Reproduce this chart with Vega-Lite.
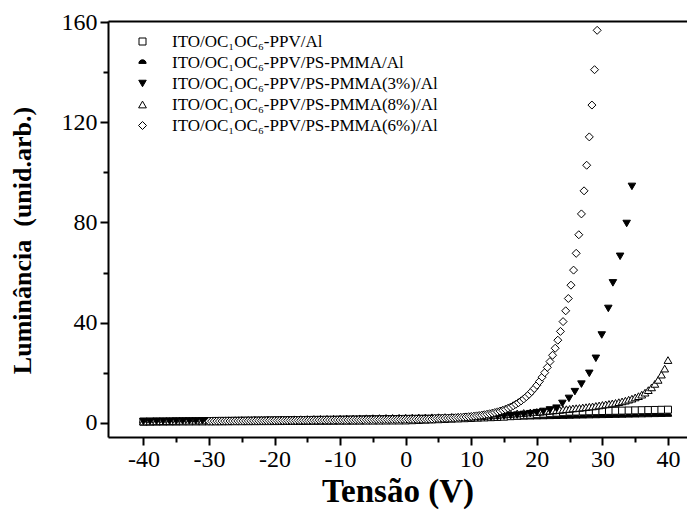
{
"$schema": "https://vega.github.io/schema/vega-lite/v6.json",
"width": 579, "height": 416,
"autosize": {"type": "none"},
"padding": {"left": 108, "top": 21, "right": 0, "bottom": 74},
"background": "white",
"config": {"font": "Liberation Serif", "view": {"stroke": null}},
"data": {"values": [
{"s":"b","x":-40,"y":0.4},{"s":"b","x":-39,"y":0.42},{"s":"b","x":-38,"y":0.43},{"s":"b","x":-37,"y":0.45},{"s":"b","x":-36,"y":0.46},{"s":"b","x":-35,"y":0.48},{"s":"b","x":-34,"y":0.49},{"s":"b","x":-33,"y":0.51},{"s":"b","x":-32,"y":0.52},{"s":"b","x":-31,"y":0.54},{"s":"b","x":-30,"y":0.55},{"s":"b","x":-29,"y":0.57},{"s":"b","x":-28,"y":0.58},{"s":"b","x":-27,"y":0.6},{"s":"b","x":-26,"y":0.61},{"s":"b","x":-25,"y":0.63},{"s":"b","x":-24,"y":0.64},{"s":"b","x":-23,"y":0.66},{"s":"b","x":-22,"y":0.67},{"s":"b","x":-21,"y":0.69},{"s":"b","x":-20,"y":0.7},{"s":"b","x":-19,"y":0.72},{"s":"b","x":-18,"y":0.73},{"s":"b","x":-17,"y":0.75},{"s":"b","x":-16,"y":0.76},{"s":"b","x":-15,"y":0.78},{"s":"b","x":-14,"y":0.79},{"s":"b","x":-13,"y":0.81},{"s":"b","x":-12,"y":0.82},{"s":"b","x":-11,"y":0.84},{"s":"b","x":-10,"y":0.85},{"s":"b","x":-9,"y":0.87},{"s":"b","x":-8,"y":0.88},{"s":"b","x":-7,"y":0.9},{"s":"b","x":-6,"y":0.91},{"s":"b","x":-5,"y":0.93},{"s":"b","x":-4,"y":0.94},{"s":"b","x":-3,"y":0.96},{"s":"b","x":-2,"y":0.97},{"s":"b","x":-1,"y":0.99},{"s":"b","x":0,"y":1.0},{"s":"b","x":1,"y":1.05},{"s":"b","x":2,"y":1.1},{"s":"b","x":3,"y":1.15},{"s":"b","x":4,"y":1.2},{"s":"b","x":5,"y":1.25},{"s":"b","x":6,"y":1.3},{"s":"b","x":7,"y":1.35},{"s":"b","x":8,"y":1.4},{"s":"b","x":9,"y":1.45},{"s":"b","x":10,"y":1.5},{"s":"b","x":11,"y":1.55},{"s":"b","x":12,"y":1.6},{"s":"b","x":13,"y":1.65},{"s":"b","x":14,"y":1.7},{"s":"b","x":15,"y":1.75},{"s":"b","x":16,"y":1.8},{"s":"b","x":17,"y":1.85},{"s":"b","x":18,"y":1.9},{"s":"b","x":19,"y":1.95},{"s":"b","x":20,"y":2.0},{"s":"b","x":21,"y":2.05},{"s":"b","x":22,"y":2.1},{"s":"b","x":23,"y":2.15},{"s":"b","x":24,"y":2.2},{"s":"b","x":25,"y":2.25},{"s":"b","x":26,"y":2.3},{"s":"b","x":27,"y":2.35},{"s":"b","x":28,"y":2.4},{"s":"b","x":29,"y":2.45},{"s":"b","x":30,"y":2.5},{"s":"b","x":31,"y":2.55},{"s":"b","x":32,"y":2.6},{"s":"b","x":33,"y":2.65},{"s":"b","x":34,"y":2.7},{"s":"b","x":35,"y":2.75},{"s":"b","x":36,"y":2.8},{"s":"b","x":37,"y":2.85},{"s":"b","x":38,"y":2.9},{"s":"b","x":39,"y":2.95},{"s":"b","x":40,"y":3.0},
{"s":"a","x":-40,"y":0.5},{"s":"a","x":-39,"y":0.51},{"s":"a","x":-38,"y":0.53},{"s":"a","x":-37,"y":0.54},{"s":"a","x":-36,"y":0.55},{"s":"a","x":-35,"y":0.56},{"s":"a","x":-34,"y":0.58},{"s":"a","x":-33,"y":0.59},{"s":"a","x":-32,"y":0.6},{"s":"a","x":-31,"y":0.61},{"s":"a","x":-30,"y":0.63},{"s":"a","x":-29,"y":0.64},{"s":"a","x":-28,"y":0.65},{"s":"a","x":-27,"y":0.66},{"s":"a","x":-26,"y":0.68},{"s":"a","x":-25,"y":0.69},{"s":"a","x":-24,"y":0.7},{"s":"a","x":-23,"y":0.71},{"s":"a","x":-22,"y":0.73},{"s":"a","x":-21,"y":0.74},{"s":"a","x":-20,"y":0.75},{"s":"a","x":-19,"y":0.76},{"s":"a","x":-18,"y":0.78},{"s":"a","x":-17,"y":0.79},{"s":"a","x":-16,"y":0.8},{"s":"a","x":-15,"y":0.81},{"s":"a","x":-14,"y":0.83},{"s":"a","x":-13,"y":0.84},{"s":"a","x":-12,"y":0.85},{"s":"a","x":-11,"y":0.86},{"s":"a","x":-10,"y":0.88},{"s":"a","x":-9,"y":0.89},{"s":"a","x":-8,"y":0.9},{"s":"a","x":-7,"y":0.91},{"s":"a","x":-6,"y":0.93},{"s":"a","x":-5,"y":0.94},{"s":"a","x":-4,"y":0.95},{"s":"a","x":-3,"y":0.96},{"s":"a","x":-2,"y":0.98},{"s":"a","x":-1,"y":0.99},{"s":"a","x":0,"y":1.0},{"s":"a","x":1,"y":1.1},{"s":"a","x":2,"y":1.2},{"s":"a","x":3,"y":1.3},{"s":"a","x":4,"y":1.4},{"s":"a","x":5,"y":1.5},{"s":"a","x":6,"y":1.6},{"s":"a","x":7,"y":1.7},{"s":"a","x":8,"y":1.8},{"s":"a","x":9,"y":1.9},{"s":"a","x":10,"y":2.0},{"s":"a","x":11,"y":2.1},{"s":"a","x":12,"y":2.2},{"s":"a","x":13,"y":2.3},{"s":"a","x":14,"y":2.4},{"s":"a","x":15,"y":2.5},{"s":"a","x":16,"y":2.7},{"s":"a","x":17,"y":2.9},{"s":"a","x":18,"y":3.1},{"s":"a","x":19,"y":3.3},{"s":"a","x":20,"y":3.5},{"s":"a","x":21,"y":3.7},{"s":"a","x":22,"y":3.9},{"s":"a","x":23,"y":4.1},{"s":"a","x":24,"y":4.3},{"s":"a","x":25,"y":4.5},{"s":"a","x":26,"y":4.55},{"s":"a","x":27,"y":4.61},{"s":"a","x":28,"y":4.66},{"s":"a","x":29,"y":4.71},{"s":"a","x":30,"y":4.77},{"s":"a","x":31,"y":4.82},{"s":"a","x":32,"y":4.87},{"s":"a","x":33,"y":4.93},{"s":"a","x":34,"y":4.98},{"s":"a","x":35,"y":5.03},{"s":"a","x":36,"y":5.09},{"s":"a","x":37,"y":5.14},{"s":"a","x":38,"y":5.19},{"s":"a","x":39,"y":5.25},{"s":"a","x":40,"y":5.3},
{"s":"d","x":-40,"y":0.6},{"s":"d","x":-39,"y":0.64},{"s":"d","x":-38,"y":0.68},{"s":"d","x":-37,"y":0.71},{"s":"d","x":-36,"y":0.75},{"s":"d","x":-35,"y":0.79},{"s":"d","x":-34,"y":0.83},{"s":"d","x":-33,"y":0.87},{"s":"d","x":-32,"y":0.9},{"s":"d","x":-31,"y":0.94},{"s":"d","x":-30,"y":0.98},{"s":"d","x":-29,"y":1.02},{"s":"d","x":-28,"y":1.06},{"s":"d","x":-27,"y":1.09},{"s":"d","x":-26,"y":1.13},{"s":"d","x":-25,"y":1.17},{"s":"d","x":-24,"y":1.21},{"s":"d","x":-23,"y":1.25},{"s":"d","x":-22,"y":1.28},{"s":"d","x":-21,"y":1.32},{"s":"d","x":-20,"y":1.36},{"s":"d","x":-19,"y":1.4},{"s":"d","x":-18,"y":1.44},{"s":"d","x":-17,"y":1.47},{"s":"d","x":-16,"y":1.51},{"s":"d","x":-15,"y":1.55},{"s":"d","x":-14,"y":1.59},{"s":"d","x":-13,"y":1.63},{"s":"d","x":-12,"y":1.66},{"s":"d","x":-11,"y":1.7},{"s":"d","x":-10,"y":1.74},{"s":"d","x":-9,"y":1.78},{"s":"d","x":-8,"y":1.82},{"s":"d","x":-7,"y":1.85},{"s":"d","x":-6,"y":1.89},{"s":"d","x":-5,"y":1.93},{"s":"d","x":-4,"y":1.97},{"s":"d","x":-3,"y":2.01},{"s":"d","x":-2,"y":2.04},{"s":"d","x":-1,"y":2.08},{"s":"d","x":0,"y":2.12},{"s":"d","x":1,"y":2.16},{"s":"d","x":2,"y":2.2},{"s":"d","x":3,"y":2.23},{"s":"d","x":4,"y":2.27},{"s":"d","x":5,"y":2.31},{"s":"d","x":6,"y":2.35},{"s":"d","x":7,"y":2.39},{"s":"d","x":8,"y":2.42},{"s":"d","x":9,"y":2.46},{"s":"d","x":10,"y":2.5},{"s":"d","x":11,"y":2.6},{"s":"d","x":12,"y":2.8},{"s":"d","x":13,"y":3.0},{"s":"d","x":14,"y":3.2},{"s":"d","x":15,"y":3.4},{"s":"d","x":16,"y":3.6},{"s":"d","x":17,"y":3.8},{"s":"d","x":18,"y":4.0},{"s":"d","x":19,"y":4.2},
{"s":"d","x":20,"y":4.4},{"s":"d","x":20.5,"y":4.5},{"s":"d","x":21,"y":4.6},{"s":"d","x":21.5,"y":4.8},{"s":"d","x":22,"y":4.9},{"s":"d","x":22.5,"y":5.0},{"s":"d","x":23,"y":5.1},{"s":"d","x":23.5,"y":5.2},{"s":"d","x":24,"y":5.4},{"s":"d","x":24.5,"y":5.5},{"s":"d","x":25,"y":5.6},{"s":"d","x":25.5,"y":5.8},{"s":"d","x":26,"y":5.9},{"s":"d","x":26.5,"y":6.0},{"s":"d","x":27,"y":6.2},{"s":"d","x":27.5,"y":6.3},{"s":"d","x":28,"y":6.5},{"s":"d","x":28.5,"y":6.6},{"s":"d","x":29,"y":6.8},{"s":"d","x":29.5,"y":7.0},{"s":"d","x":30,"y":7.2},{"s":"d","x":30.5,"y":7.4},{"s":"d","x":31,"y":7.6},{"s":"d","x":31.5,"y":7.8},{"s":"d","x":32,"y":8.0},{"s":"d","x":32.5,"y":8.3},{"s":"d","x":33,"y":8.6},{"s":"d","x":33.5,"y":8.9},{"s":"d","x":34,"y":9.3},{"s":"d","x":34.5,"y":9.7},{"s":"d","x":35,"y":10.2},{"s":"d","x":35.5,"y":10.7},{"s":"d","x":36,"y":11.3},{"s":"d","x":36.5,"y":12.1},{"s":"d","x":37,"y":13.1},{"s":"d","x":37.5,"y":14.2},{"s":"d","x":38,"y":15.6},{"s":"d","x":38.5,"y":17.2},{"s":"d","x":39,"y":19.3},{"s":"d","x":39.5,"y":21.7},{"s":"d","x":40,"y":25.1},
{"s":"c","x":-40,"y":0.6},{"s":"c","x":-39,"y":0.63},{"s":"c","x":-38,"y":0.66},{"s":"c","x":-37,"y":0.68},{"s":"c","x":-36,"y":0.71},{"s":"c","x":-35,"y":0.74},{"s":"c","x":-34,"y":0.77},{"s":"c","x":-33,"y":0.8},{"s":"c","x":-32,"y":0.82},{"s":"c","x":-31,"y":0.85},{"s":"c","x":-30,"y":0.88},{"s":"c","x":-29,"y":0.91},{"s":"c","x":-28,"y":0.94},{"s":"c","x":-27,"y":0.96},{"s":"c","x":-26,"y":0.99},{"s":"c","x":-25,"y":1.02},{"s":"c","x":-24,"y":1.05},{"s":"c","x":-23,"y":1.08},{"s":"c","x":-22,"y":1.1},{"s":"c","x":-21,"y":1.13},{"s":"c","x":-20,"y":1.16},{"s":"c","x":-19,"y":1.19},{"s":"c","x":-18,"y":1.22},{"s":"c","x":-17,"y":1.24},{"s":"c","x":-16,"y":1.27},{"s":"c","x":-15,"y":1.3},{"s":"c","x":-14,"y":1.33},{"s":"c","x":-13,"y":1.36},{"s":"c","x":-12,"y":1.38},{"s":"c","x":-11,"y":1.41},{"s":"c","x":-10,"y":1.44},{"s":"c","x":-9,"y":1.47},{"s":"c","x":-8,"y":1.5},{"s":"c","x":-7,"y":1.52},{"s":"c","x":-6,"y":1.55},{"s":"c","x":-5,"y":1.58},{"s":"c","x":-4,"y":1.61},{"s":"c","x":-3,"y":1.64},{"s":"c","x":-2,"y":1.66},{"s":"c","x":-1,"y":1.69},{"s":"c","x":0,"y":1.72},{"s":"c","x":1,"y":1.75},{"s":"c","x":2,"y":1.78},{"s":"c","x":3,"y":1.8},{"s":"c","x":4,"y":1.83},{"s":"c","x":5,"y":1.86},{"s":"c","x":6,"y":1.89},{"s":"c","x":7,"y":1.92},{"s":"c","x":8,"y":1.94},{"s":"c","x":9,"y":1.97},{"s":"c","x":10,"y":2.0},{"s":"c","x":11,"y":2.1},{"s":"c","x":12,"y":2.2},{"s":"c","x":13,"y":2.3},{"s":"c","x":14,"y":2.5},{"s":"c","x":15,"y":2.7},{"s":"c","x":16,"y":2.9},{"s":"c","x":17,"y":3.1},{"s":"c","x":18,"y":3.4},{"s":"c","x":19,"y":3.7},{"s":"c","x":20,"y":4.1},{"s":"c","x":21,"y":4.6},{"s":"c","x":22,"y":5.2},{"s":"c","x":23.0,"y":5.9},{"s":"c","x":23.9,"y":7.8},{"s":"c","x":24.9,"y":9.8},{"s":"c","x":25.8,"y":12.5},{"s":"c","x":26.8,"y":15.5},{"s":"c","x":28.0,"y":19.8},{"s":"c","x":29.0,"y":25.8},{"s":"c","x":29.9,"y":35.1},{"s":"c","x":30.9,"y":45.7},{"s":"c","x":31.6,"y":55.9},{"s":"c","x":32.7,"y":66.5},{"s":"c","x":33.7,"y":79.6},{"s":"c","x":34.5,"y":94.4},
{"s":"e","x":-30,"y":0.7},{"s":"e","x":-29.6,"y":0.71},{"s":"e","x":-29.2,"y":0.72},{"s":"e","x":-28.8,"y":0.73},{"s":"e","x":-28.4,"y":0.74},{"s":"e","x":-28,"y":0.75},{"s":"e","x":-27.6,"y":0.76},{"s":"e","x":-27.2,"y":0.77},{"s":"e","x":-26.8,"y":0.78},{"s":"e","x":-26.4,"y":0.79},{"s":"e","x":-26,"y":0.8},{"s":"e","x":-25.6,"y":0.81},{"s":"e","x":-25.2,"y":0.82},{"s":"e","x":-24.8,"y":0.83},{"s":"e","x":-24.4,"y":0.84},{"s":"e","x":-24,"y":0.85},{"s":"e","x":-23.6,"y":0.86},{"s":"e","x":-23.2,"y":0.87},{"s":"e","x":-22.8,"y":0.88},{"s":"e","x":-22.4,"y":0.89},{"s":"e","x":-22,"y":0.9},{"s":"e","x":-21.6,"y":0.91},{"s":"e","x":-21.2,"y":0.92},{"s":"e","x":-20.8,"y":0.93},{"s":"e","x":-20.4,"y":0.94},{"s":"e","x":-20,"y":0.95},{"s":"e","x":-19.6,"y":0.96},{"s":"e","x":-19.2,"y":0.97},{"s":"e","x":-18.8,"y":0.98},{"s":"e","x":-18.4,"y":0.99},{"s":"e","x":-18,"y":1.0},{"s":"e","x":-17.6,"y":1.01},{"s":"e","x":-17.2,"y":1.02},{"s":"e","x":-16.8,"y":1.03},{"s":"e","x":-16.4,"y":1.04},{"s":"e","x":-16,"y":1.05},{"s":"e","x":-15.6,"y":1.06},{"s":"e","x":-15.2,"y":1.07},{"s":"e","x":-14.8,"y":1.08},{"s":"e","x":-14.4,"y":1.09},{"s":"e","x":-14,"y":1.1},{"s":"e","x":-13.6,"y":1.11},{"s":"e","x":-13.2,"y":1.12},{"s":"e","x":-12.8,"y":1.13},{"s":"e","x":-12.4,"y":1.14},{"s":"e","x":-12,"y":1.15},{"s":"e","x":-11.6,"y":1.16},{"s":"e","x":-11.2,"y":1.17},{"s":"e","x":-10.8,"y":1.18},{"s":"e","x":-10.4,"y":1.19},{"s":"e","x":-10,"y":1.2},{"s":"e","x":-9.6,"y":1.21},{"s":"e","x":-9.2,"y":1.22},{"s":"e","x":-8.8,"y":1.23},{"s":"e","x":-8.4,"y":1.24},{"s":"e","x":-8,"y":1.25},{"s":"e","x":-7.6,"y":1.26},{"s":"e","x":-7.2,"y":1.27},{"s":"e","x":-6.8,"y":1.28},{"s":"e","x":-6.4,"y":1.29},{"s":"e","x":-6,"y":1.3},{"s":"e","x":-5.6,"y":1.31},{"s":"e","x":-5.2,"y":1.32},{"s":"e","x":-4.8,"y":1.33},{"s":"e","x":-4.4,"y":1.34},{"s":"e","x":-4,"y":1.35},{"s":"e","x":-3.6,"y":1.36},{"s":"e","x":-3.2,"y":1.37},{"s":"e","x":-2.8,"y":1.38},{"s":"e","x":-2.4,"y":1.39},{"s":"e","x":-2,"y":1.4},{"s":"e","x":-1.6,"y":1.41},{"s":"e","x":-1.2,"y":1.42},{"s":"e","x":-0.8,"y":1.43},{"s":"e","x":-0.4,"y":1.44},{"s":"e","x":0,"y":1.45},{"s":"e","x":0.4,"y":1.46},{"s":"e","x":0.8,"y":1.47},{"s":"e","x":1.2,"y":1.48},{"s":"e","x":1.6,"y":1.49},{"s":"e","x":2,"y":1.5},{"s":"e","x":2.4,"y":1.51},{"s":"e","x":2.8,"y":1.52},{"s":"e","x":3.2,"y":1.53},{"s":"e","x":3.6,"y":1.54},{"s":"e","x":4,"y":1.55},{"s":"e","x":4.4,"y":1.76},{"s":"e","x":4.8,"y":1.79},{"s":"e","x":5.2,"y":1.83},{"s":"e","x":5.6,"y":1.87},{"s":"e","x":6,"y":1.91},{"s":"e","x":6.4,"y":1.95},{"s":"e","x":6.8,"y":2.0},{"s":"e","x":7.2,"y":2.06},{"s":"e","x":7.6,"y":2.11},{"s":"e","x":8,"y":2.18},{"s":"e","x":8.4,"y":2.25},{"s":"e","x":8.8,"y":2.32},{"s":"e","x":9.2,"y":2.41},{"s":"e","x":9.6,"y":2.5},{"s":"e","x":10,"y":2.6},{"s":"e","x":10.4,"y":2.71},{"s":"e","x":10.8,"y":2.84},{"s":"e","x":11.2,"y":2.97},{"s":"e","x":11.6,"y":3.13},{"s":"e","x":12,"y":3.29},{"s":"e","x":12.4,"y":3.48},{"s":"e","x":12.8,"y":3.68},{"s":"e","x":13.2,"y":3.91},{"s":"e","x":13.6,"y":4.16},{"s":"e","x":14,"y":4.44},{"s":"e","x":14.4,"y":4.74},{"s":"e","x":14.8,"y":5.09},{"s":"e","x":15.2,"y":5.46},{"s":"e","x":15.6,"y":5.89},{"s":"e","x":16,"y":6.35},{"s":"e","x":16.4,"y":6.87},{"s":"e","x":16.8,"y":7.45},{"s":"e","x":17.2,"y":8.09},{"s":"e","x":17.6,"y":8.8},{"s":"e","x":18,"y":9.59},{"s":"e","x":18.4,"y":10.47},{"s":"e","x":18.8,"y":11.42},{"s":"e","x":19.2,"y":12.53},{"s":"e","x":19.6,"y":13.74},{"s":"e","x":20,"y":15.05},{"s":"e","x":20.4,"y":16.56},{"s":"e","x":20.8,"y":18.27},{"s":"e","x":21.2,"y":20.08},{"s":"e","x":21.6,"y":22.19},{"s":"e","x":22,"y":24.5},{"s":"e","x":22.4,"y":27.01},{"s":"e","x":22.8,"y":29.82},{"s":"e","x":23.2,"y":33.03},{"s":"e","x":23.6,"y":36.54},{"s":"e","x":24,"y":40.45},{"s":"e","x":24.4,"y":44.76},{"s":"e","x":24.8,"y":49.67},{"s":"e","x":25.2,"y":54.98},{"s":"e","x":25.6,"y":60.99},{"s":"e","x":26,"y":67.7},{"s":"e","x":26.4,"y":75.11},{"s":"e","x":26.8,"y":83.42},{"s":"e","x":27.2,"y":92.63},{"s":"e","x":27.6,"y":102.84},{"s":"e","x":28,"y":114.15},{"s":"e","x":28.4,"y":126.86},{"s":"e","x":28.8,"y":140.97},{"s":"e","x":29.2,"y":156.68}
]},
"layer": [
{"mark": {"type": "point", "filled": true, "stroke": "black", "strokeWidth": 1, "opacity": 1},
 "encoding": {
  "x": {"field": "x", "type": "quantitative", "scale": {"domain": [-45.4, 42.9], "nice": false, "zero": false},
   "axis": {"orient": "bottom", "values": [-40,-35,-30,-25,-20,-15,-10,-5,0,5,10,15,20,25,30,35,40], "grid": false, "domainColor": "black", "domainWidth": 2, "tickColor": "black", "tickWidth": 2, "tickSize": {"condition": {"test": "datum.value % 10 !== 0", "value": 5}, "value": 8}, "labelFont": "Liberation Serif", "labelFontSize": 24, "labelColor": "black", "labelPadding": 2, "labelFlush": false, "labelOverlap": false, "labelExpr": "datum.value % 10 === 0 ? replace(datum.label, '−', '-') : ''", "title": "Tensão (V)", "titleFont": "Liberation Serif", "titleFontSize": 33, "titleFontWeight": "bold", "titleColor": "black", "titlePadding": 4}},
  "y": {"field": "y", "type": "quantitative", "scale": {"domain": [-5.6, 160.4], "nice": false, "zero": false},
   "axis": {"orient": "left", "values": [0,20,40,60,80,100,120,140,160], "grid": false, "domainColor": "black", "domainWidth": 2, "tickColor": "black", "tickWidth": 2, "tickSize": {"condition": {"test": "datum.value % 40 !== 0", "value": 5}, "value": 8}, "labelFont": "Liberation Serif", "labelFontSize": 24, "labelColor": "black", "labelPadding": 3, "labelFlush": false, "labelOverlap": false, "labelExpr": "datum.value % 40 === 0 ? datum.label : ''", "title": "Luminância\u00a0 (unid.arb.)", "titleFont": "Liberation Serif", "titleFontSize": 26, "titleFontWeight": "bold", "titleColor": "black", "titlePadding": 26, "titleY": 219}},
  "shape": {"field": "s", "type": "ordinal", "scale": {"domain": ["a","b","c","d","e"], "range": ["square", "M-1,0.25A1,1,0,0,1,1,0.25Z", "triangle-down", "triangle-up", "diamond"]},
   "legend": {"orient": "none", "legendX": 26, "legendY": 12, "title": null, "labelFontSize": 17, "labelFont": "Liberation Serif", "labelColor": "black", "labelLimit": 0, "symbolStrokeColor": "black", "symbolStrokeWidth": 1, "rowPadding": 3, "labelOffset": 21,
    "labelExpr": "datum.value=='a'?'ITO/OC₁OC₆-PPV/Al':datum.value=='b'?'ITO/OC₁OC₆-PPV/PS-PMMA/Al':datum.value=='c'?'ITO/OC₁OC₆-PPV/PS-PMMA(3%)/Al':datum.value=='d'?'ITO/OC₁OC₆-PPV/PS-PMMA(8%)/Al':'ITO/OC₁OC₆-PPV/PS-PMMA(6%)/Al'"}},
  "fill": {"field": "s", "type": "ordinal", "scale": {"domain": ["a","b","c","d","e"], "range": ["white","black","black","white","white"]}},
  "size": {"field": "s", "type": "ordinal", "scale": {"domain": ["a","b","c","d","e"], "range": [49, 64, 100, 90, 100]}}
 }},
{"mark": {"type": "point", "opacity": 0},
 "encoding": {
  "x": {"field": "x", "type": "quantitative", "axis": {"orient": "top", "grid": false, "domain": true, "domainColor": "black", "domainWidth": 2, "ticks": false, "labels": false, "title": null}},
  "y": {"field": "y", "type": "quantitative", "axis": null}
 }}
],
"resolve": {"axis": {"x": "independent", "y": "independent"}}
}
